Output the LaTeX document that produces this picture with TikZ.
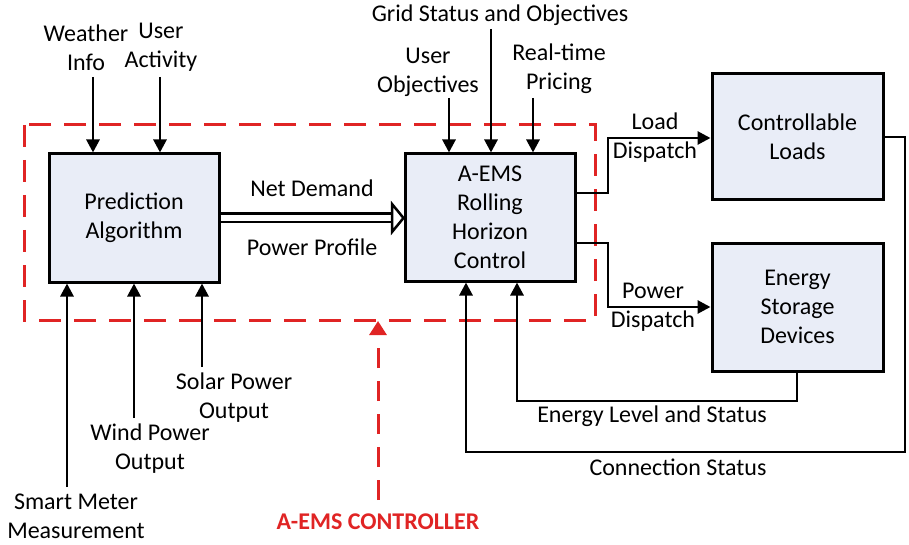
\documentclass[tikz,border=0pt]{standalone}
\usepackage{fontspec}
\setmainfont{Carlito}
\usetikzlibrary{arrows.meta}
\definecolor{boxfill}{HTML}{E9EDF7}
\definecolor{ctrlred}{HTML}{E02424}
\begin{document}
\begin{tikzpicture}[x=1pt,y=-1pt,
  txt/.style={inner sep=0pt, align=center, font=\fontsize{24}{29}\selectfont},
  blk/.style={draw, line width=3pt, fill=boxfill, inner sep=0pt, align=center,
    font=\fontsize{24}{29}\selectfont},
  arr/.style={line width=2.8pt, -{Triangle[length=13pt,width=13pt]}},
  redbox/.style={draw=ctrlred, line width=3pt, dash pattern=on 22pt off 13pt},
  redarr/.style={draw=ctrlred, line width=3pt, dash pattern=on 20pt off 13pt,
    -{Triangle[length=14pt,width=17pt,fill=ctrlred]}}
]
\useasboundingbox (0,0) rectangle (909,545);
% control boundary
\draw[redbox] (24,125) rectangle (595,320);
% blocks
\node[blk, minimum width=170pt, minimum height=128pt] (pred) at (134,218) {Prediction\\Algorithm};
\node[blk, minimum width=170pt, minimum height=127pt] (aems) at (490,217.5) {A-EMS\\Rolling\\Horizon\\Control};
\node[blk, minimum width=171pt, minimum height=126pt] (cl) at (797.5,137) {Controllable\\Loads};
\node[blk, minimum width=171pt, minimum height=128pt] (es) at (797.5,307) {Energy\\Storage\\Devices};
% labels
\node[txt] (wi) at (86,47.5) {Weather\\Info};
\node[txt] (ua) at (161,47.5) {User\\Activity};
\node[txt] (gs) at (500,15) {Grid Status and Objectives};
\node[txt] (uo) at (428,72) {User\\Objectives};
\node[txt] (rp) at (559,69) {Real-time\\Pricing};
\node[txt] (nd) at (312,188) {Net Demand};
\node[txt] (pp) at (312,247) {Power Profile};
\node[txt] (ld) at (655,137.5) {Load\\Dispatch};
\node[txt] (pd) at (653,307.5) {Power\\Dispatch};
\node[txt] (el) at (652,416) {Energy Level and Status};
\node[txt] (cs) at (678,467) {Connection Status};
\node[txt] (sm) at (76,516) {Smart Meter\\Measurement};
\node[txt] (wp) at (150,449) {Wind Power\\Output};
\node[txt] (sp) at (234,398) {Solar Power\\Output};
\node[inner sep=0pt, text=ctrlred, font=\fontsize{24}{29}\selectfont\bfseries] (ctl) at (378,522) {A-EMS CONTROLLER};
% free ends
\coordinate (wiS) at (93,77);
\coordinate (uaS) at (160,77);
\coordinate (uoS) at (449,98);
\coordinate (gsS) at (491,29);
\coordinate (rpS) at (533,98);
\coordinate (smS) at (67,487);
\coordinate (wpS) at (134,418);
\coordinate (spS) at (202,367);
\coordinate (ctlS) at (378,500);
\coordinate (ctlE) at (378,321);
% inputs
\draw[arr] (wiS) -- (pred.north -| wiS);
\draw[arr] (uaS) -- (pred.north -| uaS);
\draw[arr] (uoS) -- (aems.north -| uoS);
\draw[arr] (gsS) -- (aems.north -| gsS);
\draw[arr] (rpS) -- (aems.north -| rpS);
\draw[arr] (smS) -- (pred.south -| smS);
\draw[arr] (wpS) -- (pred.south -| wpS);
\draw[arr] (spS) -- (pred.south -| spS);
% red pointer
\draw[redarr] (ctlS) -- (ctlE);
% net demand double arrow
\coordinate (ndE) at (392,218);
\draw[line width=2.5pt, double=white, double distance=6pt] (pred.east |- ndE) -- (ndE);
\draw[line width=2.5pt, fill=white, line join=miter] (392,204) -- (aems.west |- ndE) -- (392,232) -- cycle;
% dispatch
\draw[arr] (aems.east |- 0,193) -- (608,193) -- (608,138) -- (cl.west |- 0,138);
\draw[arr] (aems.east |- 0,243) -- (608,243) -- (608,307) -- (es.west |- 0,307);
% feedback
\draw[arr] (es.south -| 797,0) -- (797,401) -- (517,401) -- (aems.south -| 517,0);
\draw[arr] (cl.east |- 0,137) -- (905,137) -- (905,452) -- (466,452) -- (aems.south -| 466,0);
\end{tikzpicture}
\end{document}
